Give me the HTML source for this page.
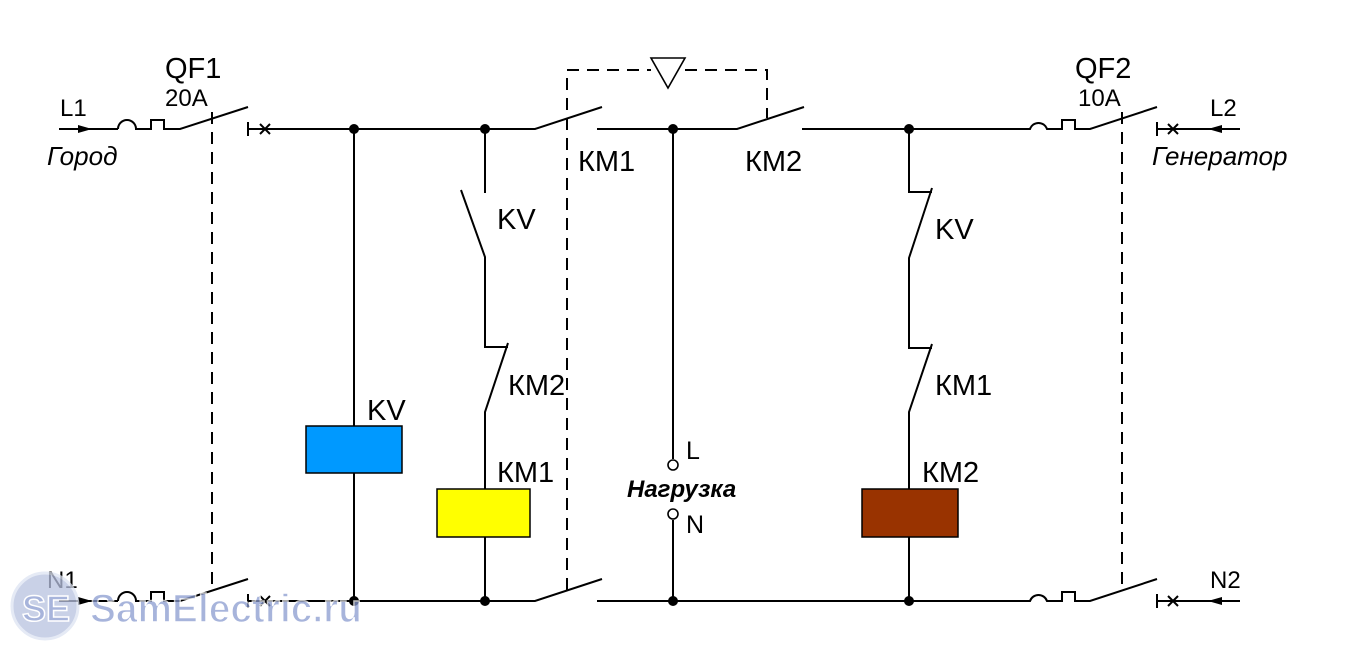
<!DOCTYPE html>
<html><head><meta charset="utf-8"><style>body{margin:0;background:#fff}svg{display:block}</style></head><body>
<svg width="1345" height="660" viewBox="0 0 1345 660" xmlns="http://www.w3.org/2000/svg" font-family="'Liberation Sans', sans-serif">
<g stroke="#000" stroke-width="2" fill="none">
<path d="M59 129H118 M118 129 A9 9 0 0 1 136 129 H151 V120 H164 V129 H180 L248 107"/>
<path d="M248 122V136 M248 129H535 L602 107 M597 129H737 L804 107 M802 129H1030 A9 9 0 0 1 1047 129 H1062 V120 H1075 V129 H1090 L1157 107 M1157 122V136 M1157 129H1240"/>
<path d="M260 124L270 134 M270 124L260 134 M1168 124L1178 134 M1178 124L1168 134"/>
<path d="M59 601H118 M118 601 A9 9 0 0 1 136 601 H151 V592 H164 V601 H180 L248 579"/>
<path d="M248 594V608 M248 601H535 L602 579 M597 601H1030 A9 9 0 0 1 1047 601 H1062 V592 H1075 V601 H1090 L1157 579 M1157 594V608 M1157 601H1240"/>
<path d="M260 596L270 606 M270 596L260 606 M1168 596L1178 606 M1178 596L1168 606"/>
<path d="M354 129V601"/>
<path d="M485 129V193 M461 190L485 257V347H508 M508 343L485 412V601"/>
<path d="M673 129V459 M673 520V601"/>
<path d="M909 129V192H932 M932 188L909 258V348H932 M932 344L909 412V601"/>
<circle cx="673" cy="465" r="5" stroke-width="1.6"/>
<circle cx="673" cy="514" r="5" stroke-width="1.6"/>
<g stroke-dasharray="12 8">
<path d="M212 112V590 M1122 112V590 M567 590V70H651 M685 70H767V118"/>
</g>
<path d="M651 58H685L668 88Z" stroke-width="1.6"/>
</g>
<path d="M78 125L92 129L78 133Z M1222 125L1208 129L1222 133Z M78 597L92 601L78 605Z M1222 597L1208 601L1222 605Z"/>
<g fill="#000">
<circle cx="354" cy="129" r="5"/><circle cx="485" cy="129" r="5"/><circle cx="673" cy="129" r="5"/><circle cx="909" cy="129" r="5"/>
<circle cx="354" cy="601" r="5"/><circle cx="485" cy="601" r="5"/><circle cx="673" cy="601" r="5"/><circle cx="909" cy="601" r="5"/>
</g>
<rect x="306" y="426" width="96" height="47" fill="#0099ff" stroke="#000" stroke-width="1.5"/>
<rect x="437" y="489" width="93" height="48" fill="#ffff00" stroke="#000" stroke-width="1.5"/>
<rect x="862" y="489" width="96" height="48" fill="#993300" stroke="#000" stroke-width="1.5"/>
<g fill="#000" font-size="29">
<text x="165" y="78">QF1</text><text x="1075" y="78">QF2</text>
<text x="165" y="106" font-size="24">20A</text><text x="1078" y="106" font-size="24">10A</text>
<text x="60" y="116" font-size="24">L1</text><text x="1210" y="116" font-size="24">L2</text>
<text x="47" y="588" font-size="24">N1</text><text x="1210" y="588" font-size="24">N2</text>
<text x="47" y="165" font-size="26" font-style="italic">Город</text>
<text x="1152" y="165" font-size="26" font-style="italic">Генератор</text>
<text x="578" y="171">КМ1</text><text x="745" y="171">КМ2</text>
<text x="367" y="420">KV</text>
<text x="497" y="229">KV</text><text x="508" y="395">КМ2</text><text x="497" y="482">КМ1</text>
<text x="935" y="239">KV</text><text x="935" y="395">КМ1</text><text x="922" y="482">КМ2</text>
<text x="686" y="459" font-size="25">L</text><text x="686" y="533" font-size="25">N</text>
<text x="627" y="497" font-size="24" font-weight="bold" font-style="italic">Нагрузка</text>
</g>
<g opacity="0.75">
<circle cx="45" cy="606" r="33" fill="#b8c2e0" stroke="#dde3f2" stroke-width="3"/>
<text x="22" y="621" font-size="36" font-weight="bold" fill="#8a9bd0" stroke="#fff" stroke-width="1.5">SE</text>
<text x="90" y="622" font-size="40" font-weight="bold" fill="#8a9bd0" stroke="#fff" stroke-width="1.5" textLength="272" lengthAdjust="spacingAndGlyphs">SamElectric.ru</text>
</g>
</svg>
</body></html>
